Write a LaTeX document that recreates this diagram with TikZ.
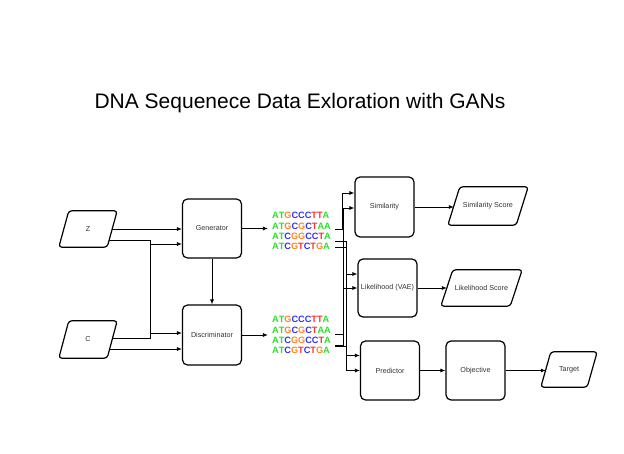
\documentclass[tikz,border=0pt]{standalone}
\usepackage{fontspec}
\setmainfont{Liberation Sans}
\usetikzlibrary{arrows.meta,calc}
\definecolor{dnaA}{RGB}{40,225,40}
\definecolor{dnaT}{RGB}{255,50,50}
\definecolor{dnaG}{RGB}{255,135,30}
\definecolor{dnaC}{RGB}{50,50,255}
\definecolor{lbl}{RGB}{50,50,50}
\newcommand\bA{\textcolor{dnaA}{A}}
\newcommand\bTg{\textcolor{dnaA}{T}}
\newcommand\bT{\textcolor{dnaT}{T}}
\newcommand\bG{\textcolor{dnaG}{G}}
\newcommand\bC{\textcolor{dnaC}{C}}
\begin{document}
\begin{tikzpicture}[x=1pt,y=-1pt,
  box/.style={draw=black,line width=1.2pt,rounded corners=5pt,inner sep=0pt,
    minimum width=59pt,minimum height=59pt,font=\fontsize{7.2}{8}\selectfont,text=lbl},
  paranode/.style={inner sep=0pt,font=\fontsize{7.2}{8}\selectfont,text=lbl},
  paraline/.style={draw=black,line width=1.2pt,rounded corners=3pt},
  seq/.style={inner xsep=4pt,inner ysep=0pt,align=left,
    font=\fontsize{9.2}{10.3}\selectfont\bfseries},
  conn/.style={draw=black,line width=0.75pt},
  arr/.style={conn,-{Latex[length=5pt,width=4pt]}}]
\useasboundingbox (0,0) rectangle (624,454);

\node[font=\fontsize{21}{24}\selectfont] (title) at (300,103) {DNA Sequenece Data Exloration with GANs};

% inputs
\node[paranode,minimum width=48pt,minimum height=36pt] (z) at (88,229) {Z};
\draw[paraline] ([xshift=5pt]z.north west) -- ([xshift=5pt]z.north east) -- ([xshift=-5pt]z.south east) -- ([xshift=-5pt]z.south west) -- cycle;
\node[paranode,minimum width=48pt,minimum height=37pt] (c) at (88,339.5) {C};
\draw[paraline] ([xshift=5pt]c.north west) -- ([xshift=5pt]c.north east) -- ([xshift=-5pt]c.south east) -- ([xshift=-5pt]c.south west) -- cycle;

\node[box,minimum height=59pt] (gen) at (212,228.5) {Generator};
\node[box,minimum height=60pt] (disc) at (212,335) {Discriminator};

\node[seq] (seqtop) at (301.5,231) {\bA\bTg\bG\bC\bC\bC\bT\bT\bA\\ \bA\bTg\bG\bC\bG\bC\bT\bA\bA\\ \bA\bTg\bC\bG\bG\bC\bC\bT\bA\\ \bA\bTg\bC\bG\bT\bC\bT\bG\bA};
\node[seq] (seqbot) at (301.5,335) {\bA\bTg\bG\bC\bC\bC\bT\bT\bA\\ \bA\bTg\bG\bC\bG\bC\bT\bA\bA\\ \bA\bTg\bC\bG\bG\bC\bC\bT\bA\\ \bA\bTg\bC\bG\bT\bC\bT\bG\bA};

\node[box,minimum height=60pt] (sim) at (384.5,207) {Similarity};
\node[box,minimum height=58pt] (like) at (387.5,288) {Likelihood (VAE)};
\node[box] (pred) at (390,370.5) {Predictor};
\node[box] (obj) at (475.5,370.5) {Objective};

\node[paranode,minimum width=68pt,minimum height=38pt] (simscore) at (488,206) {Similarity Score};
\draw[paraline] ([xshift=6pt]simscore.north west) -- ([xshift=6pt]simscore.north east) -- ([xshift=-6pt]simscore.south east) -- ([xshift=-6pt]simscore.south west) -- cycle;
\node[paranode,minimum width=69pt,minimum height=36pt] (likescore) at (481.5,288) {Likelihood Score};
\draw[paraline] ([xshift=6pt]likescore.north west) -- ([xshift=6pt]likescore.north east) -- ([xshift=-6pt]likescore.south east) -- ([xshift=-6pt]likescore.south west) -- cycle;
\node[paranode,minimum width=46pt,minimum height=35pt] (target) at (569,369.5) {Target};
\draw[paraline] ([xshift=5pt]target.north west) -- ([xshift=5pt]target.north east) -- ([xshift=-5pt]target.south east) -- ([xshift=-5pt]target.south west) -- cycle;

% left connectors
\coordinate (busL) at (150,0);
\draw[arr] (z.east) -- (z.east -| gen.west);
\draw[arr] ([xshift=-3pt,yshift=-11pt]z.east) -| (busL |- disc.west) ++(0,-2) -- ([yshift=2pt]disc.west);
\draw[arr] ([yshift=1.5pt]c.east) -| ([yshift=-15.5pt]busL |- gen.west) -- ([yshift=-15.5pt]gen.west);
\draw[arr] ([xshift=-3pt,yshift=-9.5pt]c.east) -- ([yshift=-9.5pt]c.east -| disc.west);
\draw[arr] (gen) -- (disc);
\draw[arr] (gen.east) -- (gen.east -| seqtop.west);
\draw[arr] (disc.east) -- (disc.east -| seqbot.west);

% right bus
\coordinate (busA) at (342,0);
\coordinate (busB) at (343,0);
\coordinate (busC) at (346,0);
\draw[arr] ([yshift=2pt]seqtop.east) -| ([yshift=14pt]busA |- sim.west) -- ([yshift=14pt]sim.west);
\draw[arr] ([yshift=-10pt]seqbot.east) -| ([yshift=-1pt]busB |- sim.west) -- ([yshift=-1pt]sim.west);
\draw[arr] ([yshift=-10pt]seqtop.east) -| ([yshift=14pt]busC |- like.west) -- ([yshift=14pt]like.west);
\draw[arr] ([yshift=1pt]seqbot.east) -| (busB |- like.west) -- (like.west);
\draw[arr] ([yshift=-16pt]seqtop.east) -| (busC |- pred.west) -- (pred.west);
\draw[arr] ([yshift=-11pt]seqbot.east) -| ([yshift=15pt]busC |- pred.west) -- ([yshift=15pt]pred.west);

% outputs
\draw[arr] (sim.east) -- (sim.east -| simscore.west);
\draw[arr] (like.east) -- (like.east -| likescore.west);
\draw[arr] (pred.east) -- (obj.west);
\draw[arr] (obj.east) -- (obj.east -| target.west);
\end{tikzpicture}
\end{document}
